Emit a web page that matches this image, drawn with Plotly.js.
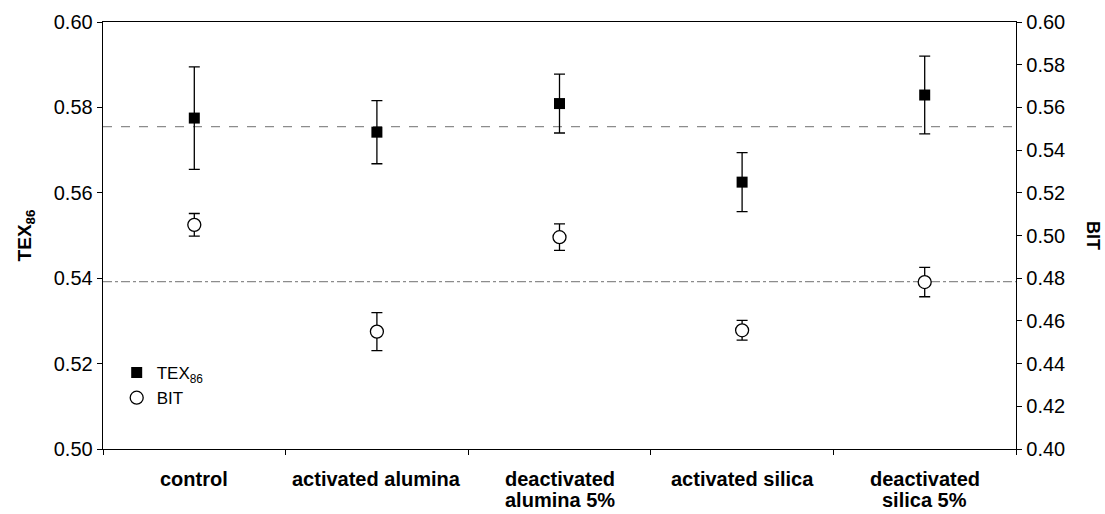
<!DOCTYPE html>
<html>
<head>
<meta charset="utf-8">
<script src="https://cdn.plot.ly/plotly-3.0.1.min.js"></script>
<style>
  html, body { margin: 0; padding: 0; background: #fff; }
  #chart { width: 1105px; height: 514px; }
</style>
</head>
<body>
<div id="chart"></div>
<script>
// Sample treatments (lines of each label separated by "\n")
const categories = [
  "control",
  "activated alumina",
  "deactivated\nalumina 5%",
  "activated silica",
  "deactivated\nsilica 5%"
];

// TEX86 (left axis) with standard deviations
const texValues = [0.5775, 0.5742, 0.5809, 0.5625, 0.5829];
const texErrors = [0.0120, 0.0074, 0.0069, 0.0069, 0.0091];

// BIT (right axis) with standard deviations
const bitValues = [0.5050, 0.4550, 0.4992, 0.4556, 0.4782];
const bitErrors = [0.0053, 0.0089, 0.0062, 0.0046, 0.0069];

// Average levels drawn as reference lines
const texMean = 0.5755;
const bitMean = 0.4784;

const font = "Arial, 'Liberation Sans', sans-serif";

const traces = [
  {
    x: categories, y: texValues, type: "scatter", mode: "markers",
    name: "TEX<sub>86</sub>", yaxis: "y",
    marker: { symbol: "square", size: 11, color: "#000", line: { width: 0 } },
    error_y: { type: "data", array: texErrors, visible: true, color: "#000", thickness: 1.3, width: 5.5 }
  },
  {
    x: categories, y: bitValues, type: "scatter", mode: "markers",
    name: "BIT", yaxis: "y2",
    marker: { symbol: "circle", size: 13, color: "#fff", line: { width: 1.3, color: "#000" } },
    error_y: { type: "data", array: bitErrors, visible: true, color: "#000", thickness: 1.3, width: 5.5 }
  }
];

// Category labels: one annotation per line so the line spacing stays tight
const labelAnnotations = [];
categories.forEach((cat) => {
  cat.split("\n").forEach((line, j) => {
    labelAnnotations.push({
      text: "<b>" + line + "</b>", xref: "x", yref: "paper", x: cat, y: 0,
      xanchor: "center", yanchor: "middle", yshift: -30 - 21 * j,
      showarrow: false, font: { family: font, size: 20, color: "#000" }
    });
  });
});

const layout = {
  width: 1105, height: 514,
  margin: { l: 103, r: 89, t: 22, b: 65 },
  paper_bgcolor: "#fff", plot_bgcolor: "#fff",
  font: { family: font, color: "#000", size: 20 },
  showlegend: true,
  legend: {
    x: 0.015, y: 0.22, xanchor: "left", yanchor: "top",
    bgcolor: "rgba(0,0,0,0)", font: { size: 17, family: font },
    tracegroupgap: 2, itemwidth: 30
  },
  xaxis: {
    type: "category",
    range: [-0.5, 4.5],
    showline: true, linecolor: "#000", linewidth: 1.3, mirror: true,
    ticks: "outside", tickson: "boundaries", ticklen: 5, tickcolor: "#000",
    showticklabels: false,
    showgrid: false, zeroline: false
  },
  yaxis: {
    range: [0.50, 0.60], dtick: 0.02, tickformat: ".2f",
    showline: true, linecolor: "#000", linewidth: 1.3,
    ticks: "outside", ticklen: 5, tickcolor: "#000",
    showgrid: false, zeroline: false,
    tickfont: { family: font, size: 20, color: "#000" },
    title: { text: "<b>TEX<sub>86</sub></b>", font: { family: font, size: 19, color: "#000" }, standoff: 17 }
  },
  yaxis2: {
    range: [0.40, 0.60], dtick: 0.02, tickformat: ".2f",
    overlaying: "y", side: "right",
    showline: true, linecolor: "#000", linewidth: 1.3,
    ticks: "outside", ticklen: 5, tickcolor: "#000",
    showgrid: false, zeroline: false,
    tickfont: { family: font, size: 20, color: "#000" }
  },
  shapes: [
    { type: "line", xref: "paper", x0: 0, x1: 1, yref: "y", y0: texMean, y1: texMean,
      line: { color: "#8c8c8c", width: 1.3, dash: "dash" }, layer: "below" },
    { type: "line", xref: "paper", x0: 0, x1: 1, yref: "y2", y0: bitMean, y1: bitMean,
      line: { color: "#8c8c8c", width: 1.3, dash: "dashdot" }, layer: "below" }
  ],
  annotations: labelAnnotations.concat([
    { text: "<b>BIT</b>", xref: "paper", yref: "paper", x: 1.085, y: 0.5,
      xanchor: "center", yanchor: "middle", showarrow: false, textangle: 90,
      font: { family: font, size: 18, color: "#000" } }
  ])
};

Plotly.newPlot("chart", traces, layout, { displayModeBar: false, staticPlot: true });
</script>
</body>
</html>
